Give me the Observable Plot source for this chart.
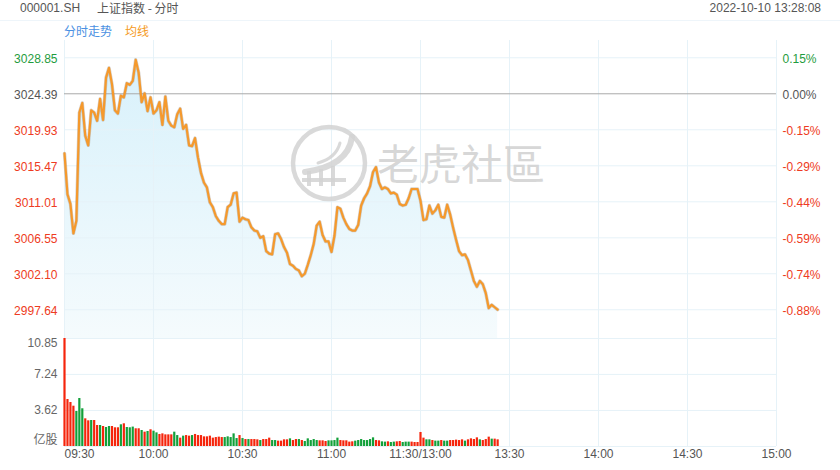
<!DOCTYPE html>
<html><head><meta charset="utf-8">
<script src="https://cdn.jsdelivr.net/npm/d3@7"></script>
<script src="https://cdn.jsdelivr.net/npm/@observablehq/plot@0.6"></script>
<style>
body{margin:0;background:#fff;font-family:"Liberation Sans",Arial,"Noto Sans CJK SC",sans-serif;}
#wrap{position:relative;width:840px;height:470px;overflow:hidden;background:#fff;}
.abs{position:absolute;white-space:nowrap;font-size:12px;line-height:14px;}
#price,#vol,#wm{position:absolute;left:0;}
#price{top:0;} #vol{top:338px;} #wm{top:0;pointer-events:none;}
</style></head><body><div id="wrap">
<div class="abs" style="left:20px;top:1px;color:#555">000001.SH</div>
<div class="abs" style="left:97px;top:1px;color:#555;font-family:'Noto Sans CJK SC','Liberation Sans',sans-serif;line-height:14px">上证指数 - 分时</div>
<div class="abs" style="right:19px;top:1px;color:#555">2022-10-10 13:28:08</div>
<div class="abs" style="left:0;top:20px;width:840px;height:1px;background:#eef5fa"></div>
<div class="abs" style="left:64px;top:24px;color:#4a90e2;font-family:'Noto Sans CJK SC',sans-serif">分时走势</div>
<div class="abs" style="left:125px;top:24px;color:#f59a23;font-family:'Noto Sans CJK SC',sans-serif">均线</div>
<div id="price"></div>
<div id="vol"></div>
<svg id="wm" width="840" height="470">
  <g fill="none" stroke="#d2d2d2" stroke-opacity="0.85">
    <circle cx="329" cy="163" r="36" stroke-width="4.5"/>
    <path d="M352,137 Q348,166 305,172" stroke-width="6" stroke-linecap="round"/>
    <path d="M340,143 Q336,158 318,163" stroke-width="3" stroke-linecap="round"/>
    <path d="M302,180 H346" stroke-width="4"/>
    <path d="M309,171 V186 M321,169 V186 M333,166 V186" stroke-width="4"/>
  </g>
  <text x="377" y="180" font-size="42" fill="#d2d2d2" fill-opacity="0.9" font-family="'Noto Sans CJK TC','Noto Sans CJK SC',sans-serif" font-weight="400">老虎社區</text>
</svg>
</div>
<script>
// ---- data ----
const preClose = 3024.39;
const prices = [
3017.0,3011.95,3010.75,3007.1,3008.65,3022.05,3023.25,3019.2,3018.0,3022.35,
3022.05,3021.05,3023.75,3021.15,3026.4,3027.6,3025.6,3022.35,3021.95,3024.15,
3023.95,3025.7,3025.5,3026.0,3028.6,3027.0,3023.35,3024.45,3022.25,3023.95,
3021.95,3022.35,3023.35,3020.55,3024.05,3021.05,3020.45,3020.25,3021.85,3022.55,
3020.05,3020.55,3018.0,3017.9,3018.9,3016.5,3014.6,3013.4,3012.8,3010.95,
3010.35,3009.25,3008.65,3008.25,3008.25,3010.35,3010.65,3012.05,3012.15,3008.55,
3009.05,3008.85,3008.75,3007.85,3007.45,3007.35,3006.55,3006.75,3004.9,3004.6,
3004.5,3007.0,3007.1,3006.4,3005.4,3004.7,3003.3,3003.1,3002.7,3002.5,
3001.8,3002.1,3003.2,3004.4,3005.8,3008.05,3008.55,3006.9,3006.1,3006.1,
3004.8,3006.8,3010.35,3010.15,3009.05,3008.25,3007.65,3007.45,3007.45,3008.15,
3010.55,3011.45,3012.05,3012.95,3014.7,3015.3,3013.4,3012.6,3012.8,3012.6,
3012.05,3012.15,3011.9,3010.75,3010.55,3010.65,3011.45,3012.6,3012.6,3012.6,
3011.15,3008.75,3008.85,3010.55,3009.55,3009.95,3010.65,3009.15,3009.05,3010.65,
3009.45,3007.8,3006.3,3004.9,3004.4,3004.5,3003.8,3002.5,3001.2,3000.5,
3001.2,3000.8,2999.7,2997.85,2998.25,2997.95,2997.65
];
const volumes = [
10.85,4.72,4.42,4.05,3.52,4.82,3.79,2.78,2.58,2.61,
2.61,2.11,2.11,2.01,1.91,2.01,2.01,1.88,1.88,2.18,
2.28,1.91,1.88,1.95,1.78,1.78,1.61,1.44,1.51,1.68,
1.54,1.37,1.21,1.27,1.17,1.17,1.17,1.44,1.10,0.84,
1.04,1.10,1.04,1.10,1.21,1.10,1.10,0.97,0.97,1.04,
0.84,0.90,0.94,0.90,0.90,0.97,0.90,1.27,0.80,1.10,
0.80,0.70,0.70,0.70,0.70,0.67,0.60,0.70,0.70,0.84,
0.60,0.60,0.54,0.54,0.67,0.67,0.77,0.60,0.70,0.70,
0.60,0.50,0.77,0.60,0.70,0.60,0.57,0.57,0.50,0.57,
0.57,0.60,0.84,0.60,0.57,0.57,0.44,0.47,0.54,0.60,
0.70,0.60,0.60,0.70,0.87,0.60,0.57,0.47,0.44,0.47,
0.40,0.44,0.47,0.50,0.40,0.44,0.44,0.44,0.40,0.40,
1.41,0.84,0.67,0.67,0.60,0.54,0.54,0.60,0.54,0.54,
0.60,0.60,0.64,0.60,0.67,0.54,0.67,0.77,0.70,0.87,
0.67,0.60,0.70,0.94,0.74,0.74,0.67
];
const barDirs = ("rrrrgggrrg"+"rrgrggrrrg"+"rgggrrgrgr"+"ggrrrrrggr"+"grrgrrrrrr"+
  "rrrrgggggr"+"grgrrrgrrr"+"ggrrrrgrrg"+"rgggggrrrg"+"gggrrrrrgg"+
  "gggggrrggr"+"ggrrgggrrr"+"rrggrggrgg"+"rrrrrgrrrr"+"grrrgrr").split("");
const timeTicks = [0,30,60,90,120,150,180,210,240];
const timeLabels = ["09:30","10:00","10:30","11:00","11:30/13:00","13:30","14:00","14:30","15:00"];
const priceTicks = [3028.85,3024.39,3019.93,3015.47,3011.01,3006.55,3002.10,2997.64];
const priceLabels = ["3028.85","3024.39","3019.93","3015.47","3011.01","3006.55","3002.10","2997.64"];
const pctLabels = ["0.15%","0.00%","-0.15%","-0.29%","-0.44%","-0.59%","-0.74%","-0.88%"];
const volTicks = [10.85,7.24,3.62,0];
const volLabels = ["10.85","7.24","3.62","亿股"];

// ---- styles ----
const RED = "#f5250c", GREEN = "#12a03a", GRID = "#e6f2f8";
const TXT_RED = "#ee3b22", TXT_GREEN = "#1f9c3e", TXT_GRAY = "#555";
const font = "'Liberation Sans', Arial, 'Noto Sans CJK SC', sans-serif";
const yLo = 2994.08, yHi = 3030.99;

const priceData = prices.map((p, i) => ({i, p}));
const volData = volumes.map((v, i) => ({i, v, d: barDirs[i]}));
const pTicks = priceTicks.map((t, k) => ({t, label: priceLabels[k], pct: pctLabels[k],
  c: t > preClose ? TXT_GREEN : (t === preClose ? TXT_GRAY : TXT_RED)}));
const tTicks = timeTicks.map((t, k) => ({t, label: timeLabels[k]}));
const vTicks = volTicks.map((t, k) => ({t, label: volLabels[k]}));

const defs = () => {
  const ns = "http://www.w3.org/2000/svg";
  const d = document.createElementNS(ns, "defs");
  const g = document.createElementNS(ns, "linearGradient");
  g.setAttribute("id", "areaGrad"); g.setAttribute("x1", "0"); g.setAttribute("y1", "0");
  g.setAttribute("x2", "0"); g.setAttribute("y2", "1");
  [["0%", "#d8f1fb"], ["100%", "#f5fbfd"]].forEach(([o, c]) => {
    const s = document.createElementNS(ns, "stop");
    s.setAttribute("offset", o); s.setAttribute("stop-color", c); g.appendChild(s);
  });
  d.appendChild(g);
  return d;
};

const price = Plot.plot({
  width: 840, height: 338, marginTop: 40, marginBottom: 0, marginLeft: 64, marginRight: 64,
  x: {domain: [0, 240], axis: null},
  y: {domain: [yLo, yHi], axis: null},
  style: {background: "transparent", fontFamily: font, fontSize: "12px", overflow: "visible"},
  marks: [
    defs,
    Plot.areaY(priceData, {x: "i", y1: yLo, y2: "p", fill: "url(#areaGrad)"}),
    Plot.ruleX(timeTicks, {stroke: GRID}),
    Plot.ruleY(priceTicks.filter(t => t !== preClose), {stroke: GRID}),
    Plot.ruleY([preClose], {stroke: "#a9a9a9"}),
    Plot.lineY(priceData, {x: "i", y: "p", stroke: "#9a8a78", strokeOpacity: 0.4, strokeWidth: 3.4}),
    Plot.lineY(priceData, {x: "i", y: "p", stroke: "#f5992c", strokeWidth: 2.2}),
    Plot.text(pTicks, {y: "t", text: "label", fill: "c", frameAnchor: "left", dx: -7, dy: 1, textAnchor: "end"}),
    Plot.text(pTicks, {y: "t", text: "pct", fill: "c", frameAnchor: "right", dx: 6, dy: 1, textAnchor: "start"})
  ]
});
document.getElementById("price").appendChild(price);

const vol = Plot.plot({
  width: 840, height: 132, marginTop: 0, marginBottom: 24, marginLeft: 64, marginRight: 64,
  x: {domain: [0, 240], axis: null},
  y: {domain: [0, 10.85], axis: null},
  style: {background: "transparent", fontFamily: font, fontSize: "12px", overflow: "visible"},
  marks: [
    Plot.ruleX(timeTicks, {stroke: GRID}),
    Plot.ruleY(volTicks, {stroke: GRID}),
    Plot.ruleX(volData.filter(d => d.d === "r"), {x: "i", y1: 0, y2: "v", stroke: RED, strokeWidth: 2.2}),
    Plot.ruleX(volData.filter(d => d.d === "g"), {x: "i", y1: 0, y2: "v", stroke: GREEN, strokeWidth: 2.2}),
    Plot.text(vTicks.slice(1, 3), {y: "t", text: "label", fill: "#666", frameAnchor: "left", dx: -7, textAnchor: "end"}),
    Plot.text(vTicks.slice(0, 1), {y: "t", text: "label", fill: "#666", frameAnchor: "left", dx: -7, dy: 5, textAnchor: "end"}),
    Plot.text(vTicks.slice(3), {y: "t", text: "label", fill: "#666", frameAnchor: "left", dx: -7, dy: -6, textAnchor: "end", fontFamily: "'Noto Sans CJK SC', sans-serif"}),
    Plot.text(tTicks.slice(0, 1), {x: "t", text: "label", fill: TXT_GRAY, frameAnchor: "bottom", dy: 11, textAnchor: "start"}),
    Plot.text(tTicks.slice(1), {x: "t", text: "label", fill: TXT_GRAY, frameAnchor: "bottom", dy: 11, textAnchor: "middle"})
  ]
});
document.getElementById("vol").appendChild(vol);
</script>
</body></html>
